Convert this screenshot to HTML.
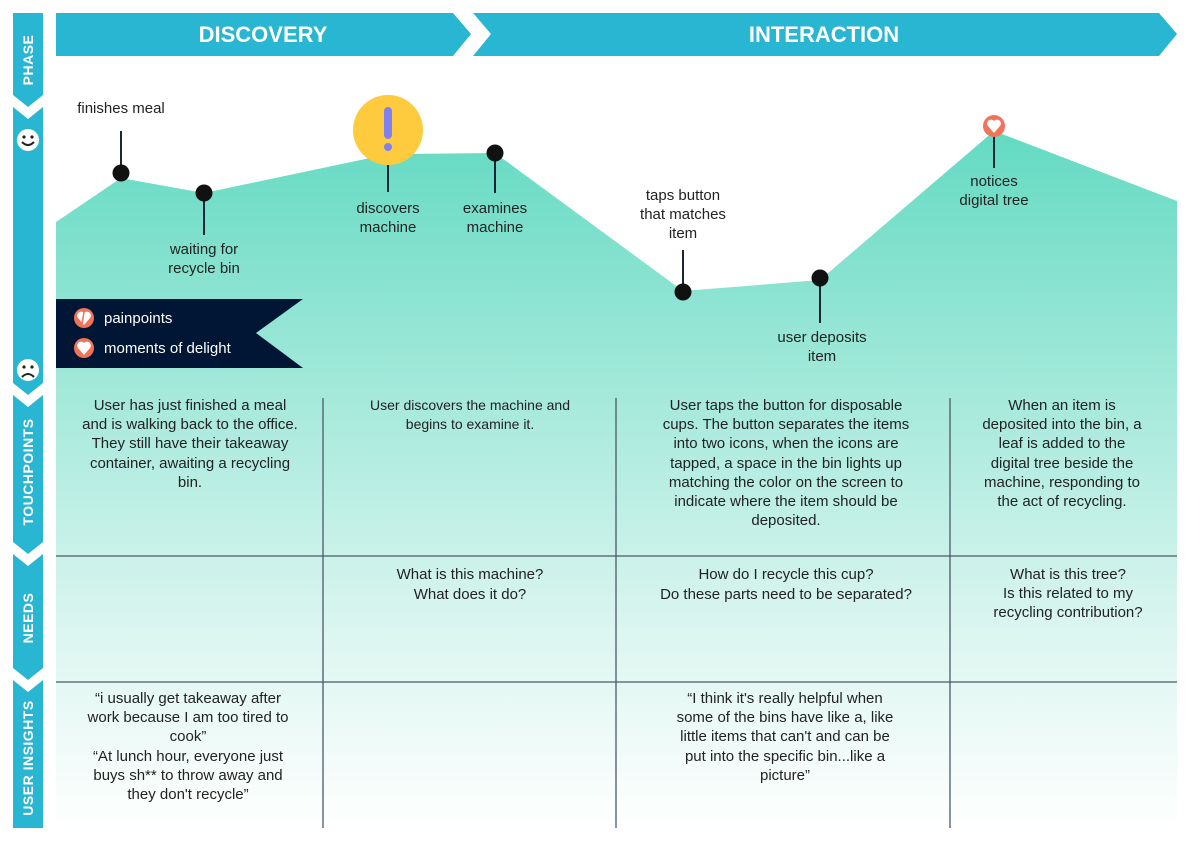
<!DOCTYPE html>
<html><head><meta charset="utf-8"><style>
html,body{margin:0;padding:0;background:#fff;}
svg{display:block;font-family:"Liberation Sans",sans-serif;}
.t{font-size:15px;fill:#222;text-anchor:middle;}
.v{font-size:14px;fill:#fff;font-weight:bold;text-anchor:middle;letter-spacing:0.5px;}
</style></head><body>
<svg width="1191" height="842" viewBox="0 0 1191 842" xmlns="http://www.w3.org/2000/svg">
<defs>
<linearGradient id="g" gradientUnits="userSpaceOnUse" x1="0" y1="130" x2="0" y2="830">
<stop offset="0" stop-color="#63dac2"/>
<stop offset="0.35" stop-color="#a0e8d9"/>
<stop offset="0.7" stop-color="#d9f5ef"/>
<stop offset="1" stop-color="#ffffff"/>
</linearGradient>
</defs>
<polygon points="56,222 121,178 204,193 370,158 400,154 495,153 683,291 820,280 994,131 1177,201 1177,830 56,830" fill="url(#g)"/>
<polygon points="56,13 453,13 471,34 453,56 56,56" fill="#29b6d3"/>
<polygon points="473,13 1159,13 1177,34 1159,56 473,56 491,34" fill="#29b6d3"/>
<text x="263" y="42" fill="#fff" font-size="22" font-weight="bold" text-anchor="middle">DISCOVERY</text>
<text x="824" y="42" fill="#fff" font-size="22" font-weight="bold" text-anchor="middle">INTERACTION</text>
<g fill="#29b6d3">
<polygon points="13,13 43,13 43,95 28,107 13,95"/>
<polygon points="13,107 28,119 43,107 43,383 28,395 13,383"/>
<polygon points="13,395 28,407 43,395 43,542 28,554 13,542"/>
<polygon points="13,554 28,566 43,554 43,668 28,680 13,668"/>
<polygon points="13,680 28,692 43,680 43,828 13,828"/>
</g>
<text class="v" transform="translate(33,60) rotate(-90)">PHASE</text>
<text class="v" transform="translate(33,472) rotate(-90)">TOUCHPOINTS</text>
<text class="v" transform="translate(33,618) rotate(-90)">NEEDS</text>
<text class="v" transform="translate(33,758) rotate(-90)">USER INSIGHTS</text>
<circle cx="28" cy="140" r="11" fill="#fff"/>
<circle cx="24" cy="137" r="1.6" fill="#222"/><circle cx="32" cy="137" r="1.6" fill="#222"/>
<path d="M22,142 Q28,148 34,142" stroke="#222" stroke-width="2" fill="none"/>
<circle cx="28" cy="370" r="11" fill="#fff"/>
<circle cx="24" cy="367" r="1.6" fill="#222"/><circle cx="32" cy="367" r="1.6" fill="#222"/>
<path d="M22,377 Q28,371 34,377" stroke="#222" stroke-width="2" fill="none"/>
<g stroke="#4a5a66" stroke-width="1.3">
<line x1="56" y1="556" x2="1177" y2="556"/>
<line x1="56" y1="682" x2="1177" y2="682"/>
<line x1="323" y1="398" x2="323" y2="828"/>
<line x1="616" y1="398" x2="616" y2="828"/>
<line x1="950" y1="398" x2="950" y2="828"/>
</g>
<g stroke="#1a2535" stroke-width="2">
<line x1="121" y1="131" x2="121" y2="173"/>
<line x1="204" y1="193" x2="204" y2="235"/>
<line x1="388" y1="160" x2="388" y2="192"/>
<line x1="495" y1="153" x2="495" y2="193"/>
<line x1="683" y1="250" x2="683" y2="292"/>
<line x1="820" y1="278" x2="820" y2="323"/>
<line x1="994" y1="126" x2="994" y2="168"/>
</g>
<g fill="#111">
<circle cx="121" cy="173" r="8.5"/>
<circle cx="204" cy="193" r="8.5"/>
<circle cx="495" cy="153" r="8.5"/>
<circle cx="683" cy="292" r="8.5"/>
<circle cx="820" cy="278" r="8.5"/>
</g>
<circle cx="388" cy="130" r="35" fill="#fecb3e"/>
<rect x="384" y="107" width="8" height="32" rx="4" fill="#8080f0"/>
<circle cx="388" cy="147" r="4" fill="#8080f0"/>
<circle cx="994" cy="126" r="11" fill="#f0735a"/>
<path d="M994,133 L988,126 A3.3,3.3 0 0 1 994,121 A3.3,3.3 0 0 1 1000,126 Z" fill="#fff"/>
<g class="t">
<text x="121" y="113">finishes meal</text>
<text x="204" y="254">waiting for</text><text x="204" y="273">recycle bin</text>
<text x="388" y="213">discovers</text><text x="388" y="232">machine</text>
<text x="495" y="213">examines</text><text x="495" y="232">machine</text>
<text x="683" y="200">taps button</text><text x="683" y="219">that matches</text><text x="683" y="238">item</text>
<text x="822" y="342">user deposits</text><text x="822" y="361">item</text>
<text x="994" y="186">notices</text><text x="994" y="205">digital tree</text>
</g>
<polygon points="56,299 303,299 256,333 303,368 56,368" fill="#001634"/>
<circle cx="84" cy="318" r="10" fill="#f0735a"/>
<path d="M84,325 L78,318 A3.3,3.3 0 0 1 84,313 A3.3,3.3 0 0 1 90,318 Z" fill="#fff"/>
<line x1="84" y1="312" x2="82" y2="324" stroke="#f0735a" stroke-width="1.5"/>
<circle cx="84" cy="348" r="10" fill="#f0735a"/>
<path d="M84,355 L78,348 A3.3,3.3 0 0 1 84,343 A3.3,3.3 0 0 1 90,348 Z" fill="#fff"/>
<text x="104" y="323" fill="#fff" font-size="15">painpoints</text>
<text x="104" y="353" fill="#fff" font-size="15">moments of delight</text>
<g class="t">
<text x="190" y="410">User has just finished a meal</text>
<text x="190" y="429">and is walking back to the office.</text>
<text x="190" y="448">They still have their takeaway</text>
<text x="190" y="468">container, awaiting a recycling</text>
<text x="190" y="487">bin.</text>
<text x="470" y="410" style="font-size:14px">User discovers the machine and</text>
<text x="470" y="429" style="font-size:14px">begins to examine it.</text>
<text x="786" y="410">User taps the button for disposable</text>
<text x="786" y="429">cups. The button separates the items</text>
<text x="786" y="448">into two icons, when the icons are</text>
<text x="786" y="468">tapped, a space in the bin lights up</text>
<text x="786" y="487">matching the color on the screen to</text>
<text x="786" y="506">indicate where the item should be</text>
<text x="786" y="525">deposited.</text>
<text x="1062" y="410">When an item is</text>
<text x="1062" y="429">deposited into the bin, a</text>
<text x="1062" y="448">leaf is added to the</text>
<text x="1062" y="468">digital tree beside the</text>
<text x="1062" y="487">machine, responding to</text>
<text x="1062" y="506">the act of recycling.</text>
<text x="470" y="579">What is this machine?</text>
<text x="470" y="599">What does it do?</text>
<text x="786" y="579">How do I recycle this cup?</text>
<text x="786" y="599">Do these parts need to be separated?</text>
<text x="1068" y="579">What is this tree?</text>
<text x="1068" y="598">Is this related to my</text>
<text x="1068" y="617">recycling contribution?</text>
<text x="188" y="703">“i usually get takeaway after</text>
<text x="188" y="722">work because I am too tired to</text>
<text x="188" y="741">cook”</text>
<text x="188" y="761">“At lunch hour, everyone just</text>
<text x="188" y="780">buys sh** to throw away and</text>
<text x="188" y="799">they don't recycle”</text>
<text x="785" y="703">“I think it's really helpful when</text>
<text x="785" y="722">some of the bins have like a, like</text>
<text x="785" y="741">little items that can't and can be</text>
<text x="785" y="761">put into the specific bin...like a</text>
<text x="785" y="780">picture”</text>
</g>
</svg>
</body></html>
